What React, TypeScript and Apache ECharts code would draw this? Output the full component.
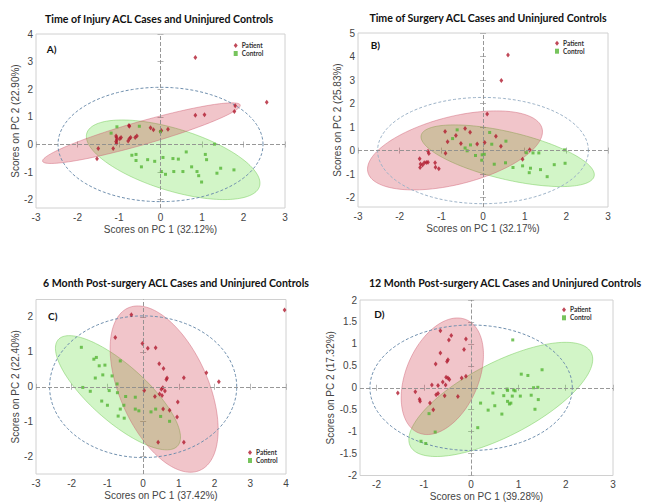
import React, { useEffect, useRef } from 'react';
import * as echarts from 'echarts';

// ---------- text ----------
const titles = [
  'Time of Injury ACL Cases and Uninjured Controls',
  'Time of Surgery ACL Cases and Uninjured Controls',
  '6 Month Post-surgery ACL Cases and Uninjured Controls',
  '12 Month Post-surgery ACL Cases and Uninjured Controls',
];
const panelLabels = ['A)', 'B)', 'C)', 'D)'];
const xNames = ['Scores on PC 1 (32.12%)', 'Scores on PC 1 (32.17%)', 'Scores on PC 1 (37.42%)', 'Scores on PC 1 (39.28%)'];
const yNames = ['Scores on PC 2 (22.90%)', 'Scores on PC 2 (25.83%)', 'Scores on PC 2 (22.40%)', 'Scores on PC 2 (17.32%)'];
const groups = ['Patient', 'Control'];

// ---------- axes ----------
const xRanges = [[-3, 3], [-3, 3], [-3, 4], [-2.35, 3]];
const yRanges = [[-2.3, 4], [-2.4, 5], [-2.5, 2.5], [-2, 2]];
const xTicks = [
  [-3, -2, -1, 0, 1, 2, 3],
  [-3, -2, -1, 0, 1, 2, 3],
  [-3, -2, -1, 0, 1, 2, 3, 4],
  [-2, -1, 0, 1, 2, 3],
];
const yTicks = [
  [-2, -1, 0, 1, 2, 3, 4],
  [-2, -1, 0, 1, 2, 3, 4, 5],
  [-2, -1, 0, 1, 2],
  [-2, -1.5, -1, -0.5, 0, 0.5, 1, 1.5, 2],
];

// ---------- scores ----------
const patientA = [
  [0.84, 3.15], [2.56, 1.53], [1.80, 1.40], [1.78, 1.19], [0.84, 1.06], [1.06, 1.08],
  [-0.76, 0.69], [-0.75, 0.66], [-0.24, 0.61], [-0.17, 0.53], [0.02, 0.51], [0.0, 0.47], [0.18, 0.55],
  [-1.07, 0.31], [-1.06, 0.25], [-1.05, 0.17], [-1.07, 0.11], [-1.06, 0.04], [-0.95, 0.25], [-0.98, 0.21],
  [-0.78, 0.13], [-0.72, 0.25], [-0.75, 0.21], [-0.61, 0.25], [-0.57, 0.31],
  [-1.50, -0.15], [-1.14, -0.15], [-1.53, -0.52],
];
const controlA = [
  [-1.05, 0.64], [-0.51, 0.66], [-1.19, 0.41], [0.0, 0.46], [1.30, 0.01], [0.62, -0.27], [-0.69, -0.39],
  [-0.59, -0.36], [-0.59, -0.58], [-0.31, -0.55], [-0.14, -0.61], [-0.46, -0.81], [0.06, -0.47], [0.30, -0.51],
  [0.43, -0.53], [1.08, -0.36], [1.11, -0.55], [0.02, -0.98], [0.12, -1.08], [0.32, -0.98], [0.54, -0.98],
  [0.75, -0.81], [0.88, -0.98], [0.92, -1.13], [0.99, -1.36], [1.36, -1.04], [1.45, -0.86], [1.77, -0.92],
];
const patientB = [
  [0.60, 4.06], [0.44, 2.98], [0.10, 1.55], [-0.91, 0.81], [-0.65, 0.64], [-0.43, 0.94], [-0.31, 0.78],
  [-0.85, 0.37], [-0.53, 0.30], [-0.14, 0.28], [0.04, 0.34], [0.31, 0.61], [0.43, 0.18], [-0.90, -0.11],
  [1.12, 0.04], [0.95, -0.37], [-1.32, -0.03], [-1.30, -0.13], [-1.52, -0.35], [-1.50, -0.57], [-1.45, -0.61],
  [-1.41, -0.52], [-1.36, -0.51], [-1.32, -0.50], [-1.51, -0.72], [-1.15, -0.52], [-1.14, -0.71], [-1.06, -0.77],
];
const controlB = [
  [-0.62, 0.88], [-0.73, 0.51], [0.16, 0.77], [-0.43, 0.11], [-0.30, 0.24], [-0.38, -0.01], [-0.18, -0.21],
  [-0.02, -0.18], [0.03, -0.16], [-0.03, -0.41], [0.21, 0.27], [0.55, 0.40], [0.27, -0.58], [0.54, -0.52],
  [0.72, -0.72], [0.95, -0.65], [1.04, -0.09], [1.20, -0.10], [1.34, -0.10], [1.14, -0.75], [1.11, -0.94],
  [1.38, -0.81], [1.54, -1.11], [1.71, -0.60], [1.96, 0.03], [1.97, -0.54],
];
const patientC = [
  [3.96, 2.20], [-0.33, 2.06], [-0.78, 1.41], [-0.02, 1.24], [0.13, 1.10], [0.35, 1.12], [0.45, 0.66],
  [0.57, 0.52], [0.67, 0.25], [0.65, 0.21], [1.14, 0.26], [1.77, 0.40], [2.12, 0.14], [0.03, -0.11],
  [0.51, -0.07], [0.55, -0.03], [0.61, -0.12], [0.46, -0.21], [0.53, -0.25], [0.33, -0.28], [0.97, -0.44],
  [0.56, -0.64], [0.74, -0.67], [0.95, -0.87], [0.42, -1.59], [1.14, -1.59],
];
const controlC = [
  [-1.73, 1.13], [-1.38, 0.79], [-1.31, 0.84], [-1.23, 0.60], [-1.07, 0.62], [-0.64, 0.74], [-1.34, 0.25],
  [-1.13, 0.34], [-0.87, 0.31], [-1.69, -0.02], [-1.48, -0.13], [-0.95, -0.11], [-0.73, 0.08], [-0.72, -0.17],
  [-1.16, -0.41], [-1.00, -0.53], [-0.49, -0.28], [-0.22, -0.30], [-0.54, -0.53], [-0.64, -0.64], [-0.70, -0.84],
  [-0.53, -0.90], [-0.22, -0.64], [-0.12, -0.69], [0.22, -0.72], [0.35, -0.64], [0.49, -0.85], [0.74, -0.99],
];
const patientD = [
  [-1.55, -0.12], [-0.65, 1.30], [-0.42, 1.19], [-0.47, 1.09], [-0.11, 1.11], [-0.15, 0.87], [-0.65, 0.79],
  [-0.49, 0.64], [-0.51, 0.60], [-0.75, 0.54], [-0.53, 0.24], [-0.49, 0.22], [-0.46, 0.19], [-0.20, 0.22],
  [-0.11, 0.26], [-0.60, 0.13], [-0.83, 0.06], [-0.70, 0.05], [-0.54, 0.06], [-1.18, -0.09], [-0.74, -0.16],
  [-0.70, -0.13], [-0.56, -0.18], [-0.28, -0.20], [-1.09, -0.26], [-1.08, -0.31], [-0.87, -0.35], [-0.80, -0.50],
];
const controlD = [
  [0.88, 1.09], [1.50, 0.41], [1.06, 0.31], [1.20, 0.28], [0.76, -0.03], [0.77, -0.06], [0.90, -0.05],
  [0.93, -0.07], [1.32, 0.0], [1.41, 0.01], [0.46, -0.12], [0.69, -0.18], [0.87, -0.19], [1.04, -0.19],
  [1.27, -0.17], [1.42, -0.27], [0.20, -0.35], [0.50, -0.41], [0.77, -0.31], [0.81, -0.37], [0.84, -0.35],
  [0.36, -0.51], [0.65, -0.60], [1.35, -0.49], [0.14, -0.91], [-0.89, -0.59], [-0.76, -1.01], [-1.06, -1.22],
  [-0.96, -1.27],
];
const patients = [patientA, patientB, patientC, patientD];
const controls = [controlA, controlB, controlC, controlD];

// ---------- confidence ellipses: [cx, cy, ax, ay, bx, by] (centre + two conjugate half-axes) ----------
const patientEllipses = [
  [-0.46, 0.41, 2.38, 1.02, 0.078, -0.406],
  [-0.672, 0.007, 2.09, 0.932, 0.198, -1.399],
  [0.588, -0.067, 1.003, -2.328, -1.132, -0.51],
  [-0.609, 0.262, 0.507, 1.289, 0.707, -0.323],
];
const controlEllipses = [
  [0.305, -0.554, 2.08, -0.964, -0.22, -1.071],
  [0.592, -0.22, 2.075, -0.87, -0.131, -0.982],
  [-0.705, -0.172, 1.671, -1.523, -0.522, -0.599],
  [0.627, -0.266, 1.911, 1.069, 0.357, -0.742],
];
const t2Ellipses = [
  [0, 0, 2.47, 0, 0, 2.07],
  [0, 0, 2.53, 0, 0, 2.26],
  [0, 0, 2.62, 0, 0, 2.03],
  [0, 0, 2.14, 0, 0, 1.43],
];

// ---------- layout ----------
const GRIDS = [
  { left: 36, top: 34, width: 249, height: 174 },
  { left: 358, top: 33, width: 250, height: 174 },
  { left: 36, top: 299.5, width: 250, height: 174.5 },
  { left: 360, top: 300, width: 253, height: 175.5 },
];
const TITLE_POS = [[159, 18.5], [488, 17.5], [176, 283], [505, 283]];
const LABEL_POS = [[51.7, 49], [375.3, 44.7], [52.7, 316], [379.3, 314]];
const LEGEND_POS = [[233.7, 42], [555, 39.7], [248, 449], [562, 306.3]];
const Y_NAME_GAP = [13, 12, 13, 19];

const PATIENT_COLOR = '#b01a2e';
const CONTROL_COLOR = '#55b535';
const FONT = 'Liberation Sans, Arial, sans-serif';

function ellipseSeries(params: number[], g: number, kind: 'pink' | 'green' | 't2') {
  return {
    type: 'custom',
    xAxisIndex: g * 2,
    yAxisIndex: g * 2,
    z: 1,
    silent: true,
    data: [[params[0], params[1]]],
    renderItem: (_p: any, api: any) => {
      const [cx, cy, ax, ay, bx, by] = params;
      const pts: number[][] = [];
      const N = 160;
      for (let i = 0; i <= N; i++) {
        const t = (i / N) * Math.PI * 2;
        const c = Math.cos(t);
        const s = Math.sin(t);
        pts.push(api.coord([cx + c * ax + s * bx, cy + c * ay + s * by]));
      }
      if (kind === 't2') {
        return {
          type: 'polyline',
          shape: { points: pts },
          style: { stroke: g === 1 ? '#9db3c8' : '#6f8fae', lineWidth: 1, lineDash: [3, 2], fill: 'none' },
        };
      }
      return {
        type: 'polygon',
        shape: { points: pts },
        style:
          kind === 'pink'
            ? { fill: 'rgba(205,45,65,0.28)', stroke: 'rgba(205,90,110,0.55)', lineWidth: 0.8 }
            : { fill: 'rgba(95,220,55,0.28)', stroke: 'rgba(110,200,80,0.6)', lineWidth: 0.8 },
      };
    },
  };
}

export default function App() {
  const ref = useRef<HTMLDivElement>(null);
  useEffect(() => {
    if (!ref.current) return;
    const chart = echarts.init(ref.current, undefined, { renderer: 'svg' });

    const xAxis: any[] = [];
    const yAxis: any[] = [];
    GRIDS.forEach((_, g) => {
      const tickCommon = {
        show: true,
        inside: true,
        length: 3,
        lineStyle: { color: '#b5b5b5', width: 1 },
      };
      xAxis.push({
        type: 'value',
        gridIndex: g,
        position: 'bottom',
        min: xRanges[g][0],
        max: xRanges[g][1],
        name: xNames[g],
        nameLocation: 'middle',
        nameGap: 16,
        nameTextStyle: { fontFamily: FONT, fontSize: 10, color: '#444' },
        axisLine: { show: false },
        splitLine: { show: false },
        axisTick: { ...tickCommon, customValues: xTicks[g] },
        axisLabel: { customValues: xTicks[g], fontFamily: FONT, fontSize: 10, color: '#444', margin: 4 },
      });
      xAxis.push({
        type: 'value',
        gridIndex: g,
        position: 'top',
        min: xRanges[g][0],
        max: xRanges[g][1],
        axisLine: { show: false },
        splitLine: { show: false },
        axisTick: { ...tickCommon, customValues: xTicks[g] },
        axisLabel: { show: false, customValues: xTicks[g] },
      });
      yAxis.push({
        type: 'value',
        gridIndex: g,
        position: 'left',
        min: yRanges[g][0],
        max: yRanges[g][1],
        name: yNames[g],
        nameLocation: 'middle',
        nameGap: Y_NAME_GAP[g],
        nameRotate: 90,
        nameTextStyle: { fontFamily: FONT, fontSize: 10, color: '#444' },
        axisLine: { show: false },
        splitLine: { show: false },
        axisTick: { ...tickCommon, customValues: yTicks[g] },
        axisLabel: { customValues: yTicks[g], fontFamily: FONT, fontSize: 10, color: '#444', margin: 3 },
      });
      yAxis.push({
        type: 'value',
        gridIndex: g,
        position: 'right',
        min: yRanges[g][0],
        max: yRanges[g][1],
        axisLine: { show: false },
        splitLine: { show: false },
        axisTick: { ...tickCommon, customValues: yTicks[g] },
        axisLabel: { show: false, customValues: yTicks[g] },
      });
    });

    const series: any[] = [];
    GRIDS.forEach((_, g) => {
      series.push(ellipseSeries(controlEllipses[g], g, 'green'));
      series.push(ellipseSeries(patientEllipses[g], g, 'pink'));
      series.push(ellipseSeries(t2Ellipses[g], g, 't2'));
      series.push({
        type: 'scatter',
        name: 'zero-lines-' + g,
        xAxisIndex: g * 2,
        yAxisIndex: g * 2,
        data: [],
        z: 2,
        silent: true,
        markLine: {
          silent: true,
          symbol: ['none', 'none'],
          label: { show: false },
          lineStyle: { type: [4, 2], color: '#8c8c8c', width: 0.9 },
          data: [{ xAxis: 0 }, { yAxis: 0 }],
        },
      });
      series.push({
        type: 'scatter',
        name: groups[0],
        xAxisIndex: g * 2,
        yAxisIndex: g * 2,
        data: patients[g],
        symbol: 'diamond',
        symbolSize: [3.8, 5],
        itemStyle: { color: PATIENT_COLOR },
        z: 3,
      });
      series.push({
        type: 'scatter',
        name: groups[1],
        xAxisIndex: g * 2,
        yAxisIndex: g * 2,
        data: controls[g],
        symbol: 'rect',
        symbolSize: 3,
        itemStyle: { color: CONTROL_COLOR },
        z: 3,
      });
    });

    const graphic: any[] = [];
    titles.forEach((t, i) => {
      graphic.push({
        type: 'text',
        x: TITLE_POS[i][0],
        y: TITLE_POS[i][1],
        style: {
          text: t,
          fontFamily: 'Lato',
          fontWeight: 'bold',
          fontSize: 10.6,
          fill: '#111',
          align: 'center',
          verticalAlign: 'middle',
        },
      });
    });
    panelLabels.forEach((t, i) => {
      graphic.push({
        type: 'text',
        x: LABEL_POS[i][0],
        y: LABEL_POS[i][1],
        z: 10,
        style: {
          text: t,
          fontFamily: 'Lato',
          fontWeight: 'bold',
          fontSize: 10,
          fill: '#111',
          align: 'center',
          verticalAlign: 'middle',
        },
      });
    });

    chart.setOption({
      animation: false,
      backgroundColor: '#ffffff',
      grid: GRIDS.map((g) => ({ ...g, show: true, borderColor: '#d0d0d0', borderWidth: 1, backgroundColor: 'transparent' })),
      xAxis,
      yAxis,
      legend: LEGEND_POS.map((p) => ({
        orient: 'vertical',
        left: p[0],
        top: p[1],
        padding: 0,
        itemWidth: 4,
        itemHeight: 5,
        itemGap: 1,
        selectedMode: false,
        data: [
          { name: groups[0], icon: 'diamond' },
          { name: groups[1], icon: 'rect' },
        ],
        textStyle: { fontFamily: 'Lato', fontWeight: 'bold', fontSize: 6.5, color: '#333', padding: [0, 0, 0, -1] },
      })),
      series,
      graphic,
    });
    return () => chart.dispose();
  }, []);
  return (
    <div
      ref={ref}
      style={{ position: 'fixed', left: 0, top: 0, width: 646, height: 503, background: '#fff' }}
    />
  );
}
